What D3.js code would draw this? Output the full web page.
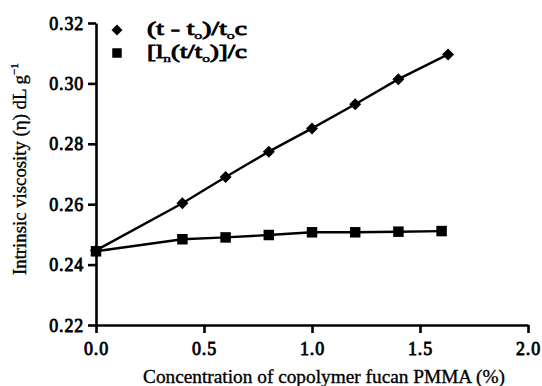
<!DOCTYPE html>
<html><head><meta charset="utf-8">
<script src="https://cdn.jsdelivr.net/npm/d3@7"></script>
<style>body{margin:0;background:#fff}svg{display:block}text{font-family:"Liberation Serif","Times New Roman",serif;fill:#000}</style>
</head><body><svg id="c" width="542" height="386"></svg>
<script>
const xTicks = [0.0, 0.5, 1.0, 1.5, 2.0];
const yTicks = [0.22, 0.24, 0.26, 0.28, 0.30, 0.32];
const diamondX = [0, 0.4, 0.6, 0.8, 1.0, 1.2, 1.4, 1.63];
const diamondY = [0.2447, 0.2603, 0.2690, 0.2774, 0.2851, 0.2931, 0.3014, 0.3096];
const squareX = [0, 0.4, 0.6, 0.8, 1.0, 1.2, 1.4, 1.6];
const squareY = [0.2444, 0.2484, 0.2490, 0.2498, 0.2507, 0.2507, 0.2509, 0.2511];

const serif = '"Liberation Serif","Times New Roman",serif';
const svg = d3.select("#c");
const x = d3.scaleLinear().domain([0, 2]).range([96, 528]);
const y = d3.scaleLinear().domain([0.22, 0.32]).range([325, 23]);

const xa = svg.append("g").attr("transform", "translate(0,325)")
  .call(d3.axisBottom(x).tickValues(xTicks).tickFormat(d3.format(".1f")).tickSize(8).tickSizeOuter(0));
const ya = svg.append("g").attr("transform", "translate(96,0)")
  .call(d3.axisLeft(y).tickValues(yTicks).tickFormat(d3.format(".2f")).tickSize(8).tickSizeOuter(0));
[xa, ya].forEach(a => {
  a.attr("font-family", serif);
  a.select(".domain").attr("stroke", "#000").attr("stroke-width", 2.6);
  a.selectAll(".tick line").attr("stroke", "#000").attr("stroke-width", 2.6);
  a.selectAll(".tick text").attr("font-size", 18).style("font-family", serif)
    .attr("fill", "#000").attr("stroke", "#000").attr("stroke-width", 0.8).attr("letter-spacing", 0.8);
});
xa.selectAll(".tick text").attr("dy", "1.05em");
ya.selectAll(".tick text").attr("x", -12).attr("dy", "0.34em");

const line = d3.line();
const dPts = diamondX.map((v, i) => [x(v), y(diamondY[i])]);
const sPts = squareX.map((v, i) => [x(v), y(squareY[i])]);
svg.append("path").attr("d", line(dPts)).attr("fill", "none").attr("stroke", "#000").attr("stroke-width", 2.4);
svg.append("path").attr("d", line(sPts)).attr("fill", "none").attr("stroke", "#000").attr("stroke-width", 2.4);

const diamond = d3.symbol().type(d3.symbolSquare).size(72);
svg.selectAll(".dm").data(dPts).join("path")
  .attr("d", diamond).attr("transform", d => `translate(${d[0]},${d[1]}) rotate(45)`).attr("fill", "#000");
const sq = d3.symbol().type(d3.symbolSquare).size(110);
svg.selectAll(".sq").data(sPts).join("path")
  .attr("d", sq).attr("transform", d => `translate(${d[0]},${d[1]})`).attr("fill", "#000");

// legend
svg.append("path").attr("d", d3.symbol().type(d3.symbolSquare).size(60)())
  .attr("transform", "translate(117,30) rotate(45)").attr("fill", "#000");
svg.append("path").attr("d", d3.symbol().type(d3.symbolSquare).size(90)())
  .attr("transform", "translate(117,53)").attr("fill", "#000");
function legText(yy, parts, len) {
  const t = svg.append("text").attr("x", 147).attr("y", yy).attr("font-size", 19)
    .attr("stroke", "#000").attr("stroke-width", 0.9)
    .attr("textLength", len).attr("lengthAdjust", "spacingAndGlyphs");
  parts.forEach(p => {
    const s = t.append("tspan").text(p[0]);
    if (p[1] === "sub") s.attr("font-size", 11).attr("dy", 4).attr("stroke-width", 0.5);
    else if (p[1] === "up") s.attr("dy", -4);
  });
  return t;
}
legText(35, [["(t - t"], ["o", "sub"], [")/t", "up"], ["o", "sub"], ["c", "up"]], 100);
legText(58, [["[l"], ["n", "sub"], ["(t/t", "up"], ["o", "sub"], [")]/c", "up"]], 100);

// axis titles
svg.append("text").attr("x", 143).attr("y", 383)
  .attr("font-size", 19).attr("stroke", "#000").attr("stroke-width", 0.35)
  .attr("textLength", 362).attr("lengthAdjust", "spacingAndGlyphs")
  .text("Concentration of copolymer fucan PMMA (%)");
const yl = svg.append("text").attr("transform", "translate(26,275) rotate(-90)")
  .attr("font-size", 18).attr("stroke", "#000").attr("stroke-width", 0.35)
  .attr("textLength", 212).attr("lengthAdjust", "spacingAndGlyphs");
yl.append("tspan").text("Intrinsic viscosity (η) dL g");
yl.append("tspan").text("−1").attr("font-size", 11).attr("dy", -8);
</script></body></html>
